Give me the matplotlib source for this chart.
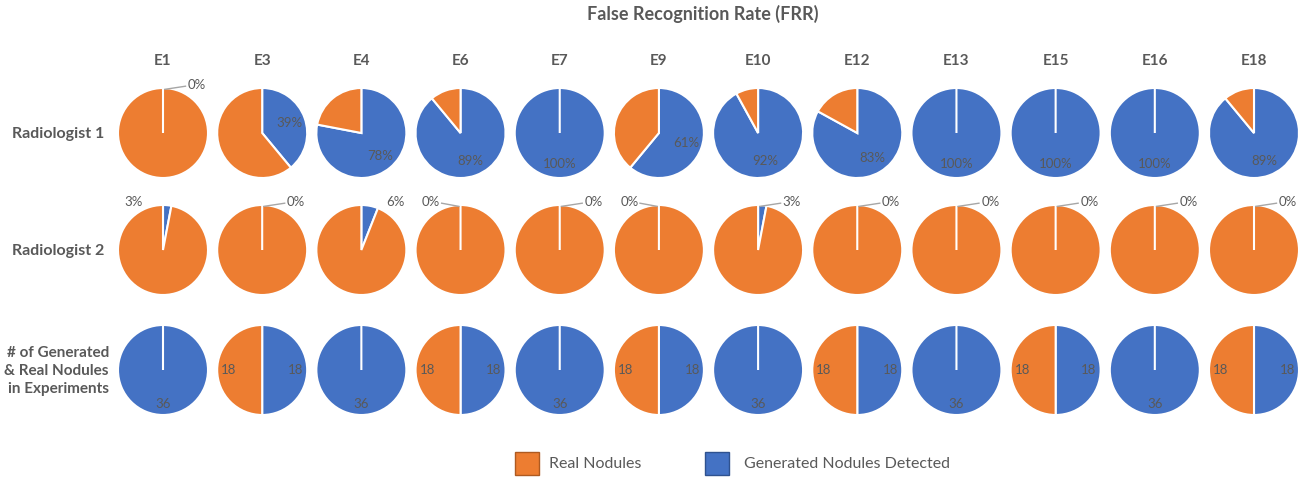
import numpy as np
import matplotlib.pyplot as plt
from matplotlib.patches import Rectangle

plt.rcParams['font.family'] = ['Lato', 'DejaVu Sans']

experiments = ["E1", "E3", "E4", "E6", "E7", "E9", "E10", "E12", "E13", "E15", "E16", "E18"]
row_labels = ["Radiologist 1", "Radiologist 2", "# of Generated\n& Real Nodules\nin Experiments"]

# % of generated nodules detected (rest = real nodules)
rad1_detected = [0, 39, 78, 89, 100, 61, 92, 83, 100, 100, 100, 89]
rad2_detected = [3, 0, 6, 0, 0, 0, 3, 0, 0, 0, 0, 0]
# nodule counts per experiment
generated_count = [36, 18, 36, 18, 36, 18, 36, 18, 36, 18, 36, 18]
real_count = [0, 18, 0, 18, 0, 18, 0, 18, 0, 18, 0, 18]

legend_labels = ["Real Nodules", "Generated Nodules Detected"]

ORANGE = "#ED7D31"
BLUE = "#4472C4"
TXT = "#595959"
W, H = 1307, 478
R = 45
col_x = np.linspace(163, 1254, len(experiments))
row_y = [133, 250, 370]
# side for the small labels of radiologist 2 (outside the pie)
rad2_side = ["left", "right", "right", "left", "right", "left", "right",
             "right", "right", "right", "right", "right"]

fig = plt.figure(figsize=(W / 100, H / 100), dpi=100)
fig.text(703 / W, 1 - 14 / H, "False Recognition Rate (FRR)", ha="center", va="center",
         fontsize=13, fontweight="bold", color=TXT)

for i, name in enumerate(experiments):
    fig.text(col_x[i] / W, 1 - 61 / H, name, ha="center", va="center",
             fontsize=11, fontweight="bold", color=TXT)

for r, lab in enumerate(row_labels):
    fig.text((104 if r < 2 else 109) / W, 1 - (row_y[r] + 1) / H, lab, ha="right", va="center",
             fontsize=11.5 if r < 2 else 11, fontweight="bold", color=TXT, linespacing=1.4)


def pie_ax(cx, cy):
    return fig.add_axes([(cx - 1.25 * R) / W, (H - cy - 1.25 * R) / H, 2.5 * R / W, 2.5 * R / H])


def draw_pie(ax, vals):
    wedges, _ = ax.pie(vals, colors=[BLUE, ORANGE], startangle=90, counterclock=False,
                       wedgeprops=dict(edgecolor="white", linewidth=1.5))
    # keep the white stroke of an empty slice visible
    for w, v in zip(wedges, vals):
        if v == 0:
            w.set_zorder(3)


def outside_label(ax, text, side, leader):
    if side == "right":
        tx, ha = 0.55, "left"
        lx = [0.04, 0.5]
    else:
        tx, ha = -0.45, "right"
        lx = [-0.04, -0.42]
    if leader:
        ax.plot(lx, [0.97, 1.04], color="#A6A6A6", lw=1, clip_on=False, zorder=4)
    ax.text(tx, 1.06, text, ha=ha, va="center", fontsize=9.5, color=TXT, clip_on=False)


# rows 1 and 2: percentages
for r, vals in enumerate([rad1_detected, rad2_detected]):
    for i, v in enumerate(vals):
        ax = pie_ax(col_x[i], row_y[r])
        draw_pie(ax, [v, 100 - v])
        if v >= 10:
            ang = np.deg2rad(90 - 3.6 * v / 2)
            d = 0.65 if v < 100 else 0.68
            ax.text(d * np.cos(ang), d * np.sin(ang), f"{v}%", ha="center", va="center",
                    fontsize=9.5, color=TXT)
        else:
            side = "right" if r == 0 else rad2_side[i]
            leader = v == 0 or (v < 5 and side == "right")
            outside_label(ax, f"{v}%", side, leader)

# row 3: counts
for i in range(len(experiments)):
    g, n = generated_count[i], real_count[i]
    ax = pie_ax(col_x[i], row_y[2])
    draw_pie(ax, [g, n])
    tot = g + n
    start = 0
    for v in (g, n):
        if v > 0:
            ang = np.deg2rad(90 - 360 * (start + v / 2) / tot)
            ax.text(0.74 * np.cos(ang), 0.76 * np.sin(ang), str(v), ha="center", va="center",
                    fontsize=9.5, color=TXT)
        start += v

# legend
for (x0, tx0), col, edge, lab in zip([(515, 549), (705, 744)], [ORANGE, BLUE],
                                     ["#AE5A21", "#2F528F"], legend_labels):
    fig.patches.append(Rectangle((x0 / W, 1 - 475 / H), 24 / W, 23 / H, transform=fig.transFigure,
                                 facecolor=col, edgecolor=edge, lw=1))
    fig.text(tx0 / W, 1 - 464 / H, lab, ha="left", va="center", fontsize=11.5, color=TXT)

fig.savefig("out.png", dpi=100)
plt.close(fig)
